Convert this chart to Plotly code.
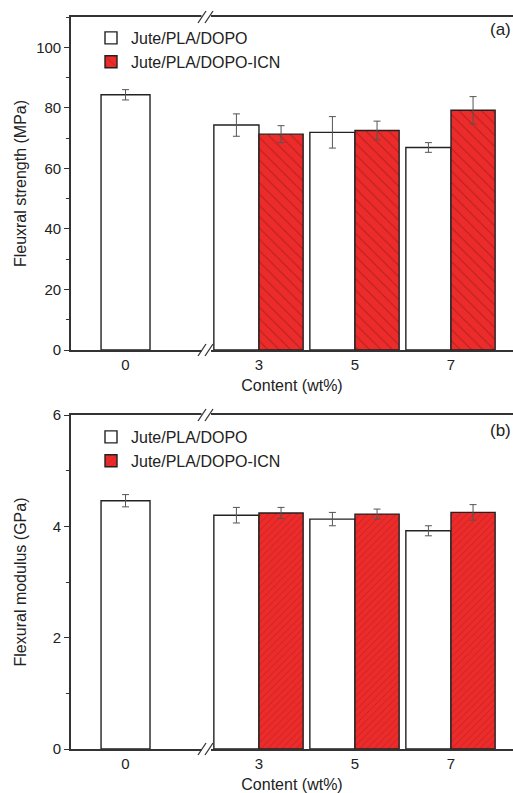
import plotly.graph_objects as go

# ---------------- data ----------------
contents = ["0", "3", "5", "7"]
series_names = ["Jute/PLA/DOPO", "Jute/PLA/DOPO-ICN"]

strength_dopo = [84.3, 74.3, 71.9, 66.9]
strength_dopo_err = [1.7, 3.7, 5.2, 1.6]
strength_icn = [71.3, 72.5, 79.2]          # contents 3, 5, 7
strength_icn_err = [2.8, 3.1, 4.5]

modulus_dopo = [4.46, 4.20, 4.13, 3.92]
modulus_dopo_err = [0.11, 0.14, 0.12, 0.09]
modulus_icn = [4.24, 4.22, 4.25]           # contents 3, 5, 7
modulus_icn_err = [0.10, 0.09, 0.14]

# ---------------- layout helpers ----------------
W, H = 513, 793
ML, MR, MT, MB = 71, 0, 17, 44
PW, PH = W - ML - MR, H - MT - MB

def xp(px):
    return (px - ML) / PW

def yp(py):
    return (H - MB - py) / PH

slot = [-0.39, 1, 2, 3]          # axis slot of each content category (broken axis)
xrange_ = [-0.958, 3.646]
bw = [0.51, 0.47, 0.47, 0.47]
off_w = [-0.255, -0.47, -0.47, -0.47]
bw_r = 0.46
boundary_ticks = [-0.687, -0.135, 1.5, 2.5, 3.5]

RED = "#EC2B2B"
HATCH = "#7a1414"
EDGE = "#222222"
AX = "#333333"
FONT = "Arial, Liberation Sans, sans-serif"

fig = go.Figure()

def add_panel(xa, ya, dopo, dopo_err, icn, icn_err, hatch_shape, hatch_size, legend):
    fig.add_trace(go.Bar(
        x=slot, y=dopo, width=bw, offset=off_w, name=series_names[0],
        marker=dict(color="white", line=dict(color=EDGE, width=1.4)),
        error_y=dict(type="data", array=dopo_err, color="#555555", thickness=1, width=3.5),
        xaxis=xa, yaxis=ya, legend=legend,
    ))
    fig.add_trace(go.Bar(
        x=slot[1:], y=icn, width=bw_r, offset=0, name=series_names[1],
        marker=dict(color=RED, line=dict(color=EDGE, width=1.4),
                    pattern=dict(shape=hatch_shape, fgcolor=HATCH, bgcolor=RED,
                                 size=hatch_size, solidity=0.12)),
        error_y=dict(type="data", array=icn_err, color="#555555", thickness=1, width=3.5),
        xaxis=xa, yaxis=ya, legend=legend,
    ))

add_panel("x", "y", strength_dopo, strength_dopo_err, strength_icn, strength_icn_err, "\\", 8, "legend")
add_panel("x2", "y2", modulus_dopo, modulus_dopo_err, modulus_icn, modulus_icn_err, "/", 5, "legend2")

tickfont = dict(family=FONT, size=15, color="#222")
titlefont = dict(family=FONT, size=16, color="#222")
legfont = dict(family=FONT, size=16, color="#222")

def xaxis_main(anchor, standoff):
    return dict(domain=[0, 1], anchor=anchor, range=xrange_, tickmode="array",
                tickvals=slot, ticktext=contents, ticks="", showgrid=False,
                zeroline=False, showline=True, mirror=True, linecolor=AX, linewidth=1.6,
                tickfont=tickfont, title=dict(text="Content (wt%)", font=titlefont, standoff=standoff))

def xaxis_ticks(over, anchor):
    return dict(overlaying=over, anchor=anchor, range=xrange_, tickmode="array",
                tickvals=boundary_ticks, ticks="outside", ticklen=5, tickwidth=1.2,
                tickcolor=AX, showticklabels=False, showgrid=False, zeroline=False,
                showline=False)

fig.update_layout(
    width=W, height=H,
    margin=dict(l=ML, r=MR, t=MT, b=MB, pad=0),
    paper_bgcolor="white", plot_bgcolor="white",
    barmode="overlay",
    font=dict(family=FONT, color="#222"),
    xaxis=xaxis_main("y", 8),
    xaxis2=xaxis_main("y2", 9),
    xaxis3=xaxis_ticks("x", "y"),
    xaxis4=xaxis_ticks("x2", "y2"),
    yaxis=dict(domain=[yp(350), 1], anchor="x", range=[0, 110], tickmode="array",
               tickvals=[0, 20, 40, 60, 80, 100], ticks="outside", ticklen=5, tickwidth=1.2,
               tickcolor=AX, minor=dict(ticks="outside", ticklen=3, dtick=10, tickcolor=AX),
               showgrid=False, zeroline=False, showline=True, linecolor=AX, linewidth=1.6,
               tickfont=tickfont,
               title=dict(text="Fleuxral strength (MPa)", font=titlefont, standoff=6)),
    yaxis2=dict(domain=[0, yp(415)], anchor="x2", range=[0, 6], tickmode="array",
                tickvals=[0, 2, 4, 6], ticks="outside", ticklen=5, tickwidth=1.2,
                tickcolor=AX, minor=dict(ticks="outside", ticklen=3, dtick=1, tickcolor=AX),
                showgrid=False, zeroline=False, showline=True, linecolor=AX, linewidth=1.6,
                tickfont=tickfont,
                title=dict(text="Flexural modulus (GPa)", font=titlefont, standoff=22)),
    legend=dict(x=xp(91), y=yp(21), xanchor="left", yanchor="top",
                bgcolor="rgba(0,0,0,0)", font=legfont,
                tracegroupgap=0, itemclick=False),
    legend2=dict(x=xp(91), y=yp(420), xanchor="left", yanchor="top",
                 bgcolor="rgba(0,0,0,0)", font=legfont,
                 tracegroupgap=0, itemclick=False),
    showlegend=True,
)

# panel labels
fig.add_annotation(text="(a)", xref="paper", yref="paper", x=1, y=yp(30),
                   xanchor="right", yanchor="middle", showarrow=False,
                   font=dict(family=FONT, size=17, color="#222"))
fig.add_annotation(text="(b)", xref="paper", yref="paper", x=1, y=yp(430),
                   xanchor="right", yanchor="middle", showarrow=False,
                   font=dict(family=FONT, size=17, color="#222"))

# axis break marks
for Y in [17, 350, 415, 749]:
    fig.add_shape(type="rect", xref="paper", yref="paper",
                  x0=xp(201.5), x1=xp(211), y0=yp(Y + 2), y1=yp(Y - 2),
                  fillcolor="white", line=dict(width=0), layer="above")
    for dx in (0, 7):
        fig.add_shape(type="line", xref="paper", yref="paper",
                      x0=xp(198 + dx), y0=yp(Y + 6), x1=xp(206 + dx), y1=yp(Y - 6),
                      line=dict(color=AX, width=1.3), layer="above")

fig.write_html("out.html")
